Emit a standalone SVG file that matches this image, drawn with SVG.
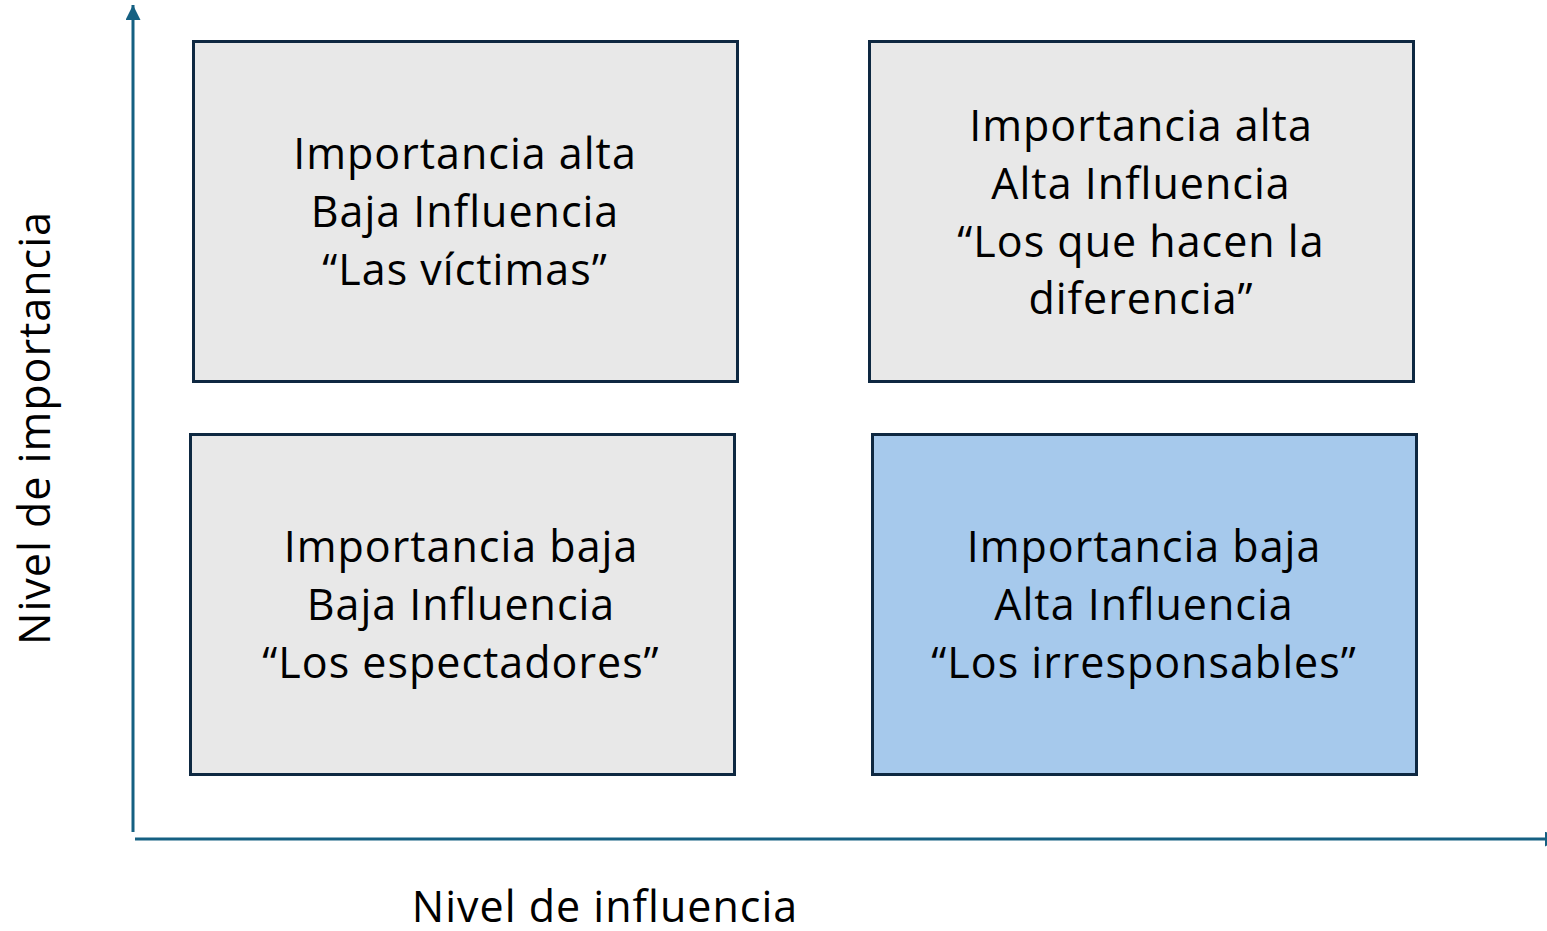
<svg xmlns="http://www.w3.org/2000/svg" width="1547" height="931" viewBox="0 0 1547 931">
<style>
.box{stroke:#0e2841;stroke-width:3}
.g{fill:#e8e8e8}
.b{fill:#a6c9ec}
.t{font-family:"Open Sans","Noto Sans",sans-serif;font-size:43px;letter-spacing:1px;fill:#000;text-anchor:middle}
.ax{stroke:#156082;stroke-width:3;fill:none}
</style>
<defs>
<marker id="ah" viewBox="0 0 10 10" refX="10" refY="5" markerWidth="5" markerHeight="5" orient="auto" markerUnits="strokeWidth">
<path d="M0,0 L10,5 L0,10 Z" fill="#156082"/>
</marker>
</defs>
<g id="connectors">
<line class="ax" x1="133" y1="832" x2="133" y2="5" marker-end="url(#ah)"/>
<line class="ax" x1="135" y1="839" x2="1560" y2="839" marker-end="url(#ah)"/>
</g>
<g id="n1">
<rect class="box g" x="193.5" y="41.5" width="544" height="340"/>
<text class="t" x="465" y="169">Importancia alta</text>
<text class="t" x="465" y="227">Baja Influencia</text>
<text class="t" x="465" y="285">“Las víctimas”</text>
</g>
<g id="n2">
<rect class="box g" x="869.5" y="41.5" width="544" height="340"/>
<text class="t" x="1141" y="141">Importancia alta</text>
<text class="t" x="1141" y="199">Alta Influencia</text>
<text class="t" x="1141" y="257">“Los que hacen la</text>
<text class="t" x="1141" y="314">diferencia”</text>
</g>
<g id="n3">
<rect class="box g" x="190.5" y="434.5" width="544" height="340"/>
<text class="t" x="461" y="562">Importancia baja</text>
<text class="t" x="461" y="620">Baja Influencia</text>
<text class="t" x="461" y="678">“Los espectadores”</text>
</g>
<g id="n4">
<rect class="box b" x="872.5" y="434.5" width="544" height="340"/>
<text class="t" x="1144" y="562">Importancia baja</text>
<text class="t" x="1144" y="620">Alta Influencia</text>
<text class="t" x="1144" y="678">“Los irresponsables”</text>
</g>
<g id="axis-labels">
<text class="t" x="605" y="922">Nivel de influencia</text>
<text class="t" transform="translate(50,428) rotate(-90)">Nivel de importancia</text>
</g>
</svg>
